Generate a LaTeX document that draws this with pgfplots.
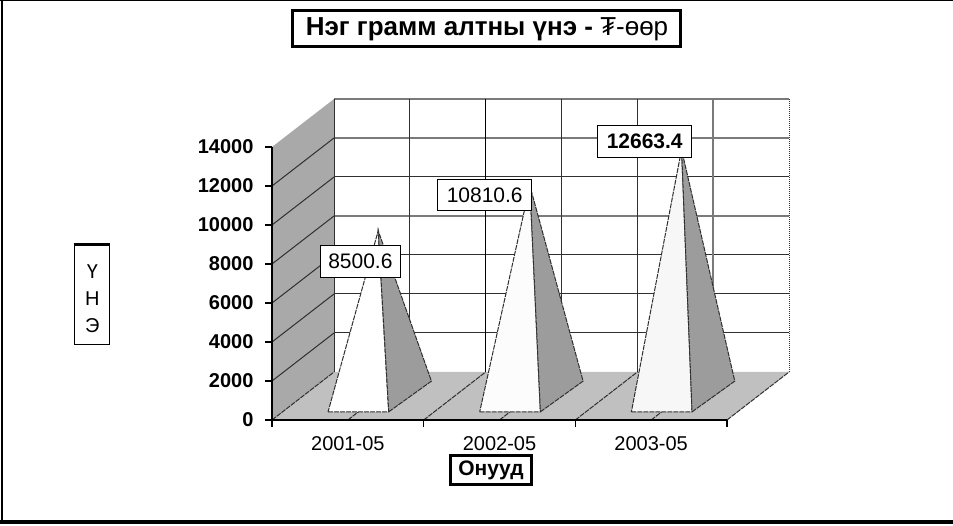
\documentclass[border=0pt]{standalone}
\usepackage{fontspec}
\setmainfont{Liberation Sans}
\usepackage{pgfplots}
\pgfplotsset{compat=1.18}
\definecolor{wallgray}{HTML}{A9A9A9}
\definecolor{floorgray}{HTML}{C0C0C0}
\definecolor{sidegray}{HTML}{9C9C9C}
\definecolor{gridd}{HTML}{303030}
\definecolor{gridl}{HTML}{7A7A7A}
\newcommand{\fs}[1]{\fontsize{#1}{#1}\selectfont}
\begin{document}
\begin{tikzpicture}[x=1pt,y=1pt]
\path[use as bounding box] (0,0) rectangle (953,525);
\fill[white] (0,0) rectangle (953,525);
% three-dimensional scene: x = category, y = depth, z = value
\begin{axis}[
  hide axis, clip=false, anchor=origin, at={(272pt,105pt)},
  x={(151.67pt,0pt)}, y={(62pt,48pt)}, z={(0pt,0.0195pt)},
  xmin=0,xmax=3,ymin=0,ymax=1,zmin=0,zmax=14000,
]
% walls and floor
\addplot3[fill=wallgray,draw=none,mark=none] coordinates {(0,0,0)(0,1,0)(0,1,14000)(0,0,14000)} --cycle;
\addplot3[fill=floorgray,draw=none,mark=none] coordinates {(0,0,0)(3,0,0)(3,1,0)(0,1,0)} --cycle;
% back wall horizontals
\addplot3[gridl,line width=2pt,mark=none] coordinates {(0,1,14000)(3,1,14000)};
\addplot3[gridl,line width=2pt,mark=none] coordinates {(0,1,12000)(3,1,12000)};
\addplot3[gridd,line width=1pt,mark=none] coordinates {(0,1,10000)(3,1,10000)};
\addplot3[gridl,line width=2pt,mark=none] coordinates {(0,1,8000)(3,1,8000)};
\addplot3[gridd,line width=1pt,mark=none] coordinates {(0,1,6000)(3,1,6000)};
\addplot3[gridd,line width=1pt,mark=none] coordinates {(0,1,4000)(3,1,4000)};
\addplot3[gridd,line width=1pt,mark=none] coordinates {(0,1,2000)(3,1,2000)};
% back wall verticals
\addplot3[gridd,line width=1pt,mark=none] coordinates {(0,1,0)(0,1,14000)};
\addplot3[gridd,line width=1pt,mark=none] coordinates {(0.5,1,0)(0.5,1,14000)};
\addplot3[black,line width=1pt,mark=none] coordinates {(1,1,0)(1,1,14000)};
\addplot3[gridd,line width=1pt,mark=none] coordinates {(1.5,1,0)(1.5,1,14000)};
\addplot3[gridd,line width=1pt,mark=none] coordinates {(2,1,0)(2,1,14000)};
\addplot3[gridl,line width=1.6pt,mark=none] coordinates {(2.5,1,0)(2.5,1,14000)};
\addplot3[gridd,line width=1pt,densely dotted,mark=none] coordinates {(3,1,0)(3,1,14000)};
% left wall lines
\addplot3[gridd,line width=1pt,mark=none] coordinates {(0,0,2000)(0,1,2000)};
\addplot3[gridd,line width=1pt,mark=none] coordinates {(0,0,4000)(0,1,4000)};
\addplot3[gridd,line width=1pt,mark=none] coordinates {(0,0,6000)(0,1,6000)};
\addplot3[gridd,line width=1pt,mark=none] coordinates {(0,0,8000)(0,1,8000)};
\addplot3[gridd,line width=1pt,mark=none] coordinates {(0,0,10000)(0,1,10000)};
\addplot3[gridd,line width=1pt,mark=none] coordinates {(0,0,12000)(0,1,12000)};
% floor lines
\addplot3[gridd,line width=1pt,dash pattern=on 5pt off 1pt,mark=none] coordinates {(0,0,0)(0,1,0)};
\addplot3[gridd,line width=1pt,dash pattern=on 5pt off 1pt,mark=none] coordinates {(0.5,0,0)(0.5,1,0)};
\addplot3[gridd,line width=1pt,dash pattern=on 5pt off 1pt,mark=none] coordinates {(1,0,0)(1,1,0)};
\addplot3[gridd,line width=1pt,dash pattern=on 5pt off 1pt,mark=none] coordinates {(1.5,0,0)(1.5,1,0)};
\addplot3[gridd,line width=1pt,dash pattern=on 5pt off 1pt,mark=none] coordinates {(2,0,0)(2,1,0)};
\addplot3[gridd,line width=1pt,dash pattern=on 5pt off 1pt,mark=none] coordinates {(2.5,0,0)(2.5,1,0)};
\addplot3[gridd,line width=1pt,dash pattern=on 5pt off 1pt,mark=none] coordinates {(3,0,0)(3,1,0)};
% pyramids
\addplot3[fill=white,draw=gridd,line width=1pt,dash pattern=on 5pt off 1pt,mark=none] coordinates {(0.30,0.17,0)(0.70,0.17,0)(0.50,0.49,8500.6)} --cycle;
\addplot3[fill=sidegray,draw=gridd,line width=1pt,dash pattern=on 5pt off 1pt,mark=none] coordinates {(0.70,0.17,0)(0.72,0.81,0)(0.50,0.49,8500.6)} --cycle;
\addplot3[fill=white!99!black,draw=gridd,line width=1pt,dash pattern=on 5pt off 1pt,mark=none] coordinates {(1.30,0.17,0)(1.70,0.17,0)(1.50,0.49,10810.6)} --cycle;
\addplot3[fill=sidegray,draw=gridd,line width=1pt,dash pattern=on 5pt off 1pt,mark=none] coordinates {(1.70,0.17,0)(1.72,0.81,0)(1.50,0.49,10810.6)} --cycle;
\addplot3[fill=white!97!black,draw=gridd,line width=1pt,dash pattern=on 5pt off 1pt,mark=none] coordinates {(2.30,0.17,0)(2.70,0.17,0)(2.50,0.49,12663.4)} --cycle;
\addplot3[fill=sidegray,draw=gridd,line width=1pt,dash pattern=on 5pt off 1pt,mark=none] coordinates {(2.70,0.17,0)(2.72,0.81,0)(2.50,0.49,12663.4)} --cycle;
\end{axis}
% front axes with ticks, labels and titles
\begin{axis}[
  anchor=origin, at={(272pt,105pt)}, scale only axis, width=455pt, height=273pt,
  xmin=0,xmax=3,ymin=0,ymax=14000, clip=false,
  axis x line=bottom, axis y line=left, axis line style={-,black,line width=1.5pt},
  xtick={0.5,1.5,2.5}, xticklabels={2001-05,2002-05,2003-05},
  minor xtick={0,1,2,3},
  major x tick style={draw=none},
  minor x tick style={black,line width=1.5pt},
  ytick={0,2000,...,14000},
  scaled y ticks=false,
  y tick style={black,line width=1.5pt},
  tick align=outside, major tick length=7pt, minor tick length=7pt,
  /pgf/number format/assume math mode=true,
  /pgf/number format/fixed,
  /pgf/number format/1000 sep={},
  x tick label style={font=\fs{20}, yshift=-6pt},
  y tick label style={font=\fs{20}\bfseries, xshift=-8pt},
  title={{\bfseries Нэг грамм алтны үнэ - }₮-өөр},
  title style={at={(0.4725,1.4105)}, anchor=center, draw=black, line width=3pt, fill=white,
    minimum width=388pt, minimum height=36pt, inner sep=0pt, font=\fs{26}},
  xlabel={\bfseries Онууд},
  xlabel style={at={(0.4813,-0.1832)}, anchor=center, draw=black, line width=3pt, fill=white,
    minimum width=81pt, minimum height=29pt, inner sep=0pt, font=\fs{21}},
  ylabel={\fs{20}\vbox{\vskip14pt\hbox{\begin{tabular}{@{}c@{}}Ү\\[7pt]Н\\[7pt]Э\end{tabular}}}},
  ylabel style={at={(-0.3947,0.4586)}, anchor=center, rotate=-90, draw=black, line width=1pt, fill=white,
    minimum width=35pt, minimum height=99pt, inner sep=0pt},
]
\end{axis}
\draw[black,line width=3pt] (73.5,280) -- (109.5,280);
% data labels
\tikzset{dl/.style={draw=black,line width=1pt,fill=white,inner sep=0pt,font=\fs{21}}}
\node[dl,minimum width=80pt,minimum height=32pt] at (360.4,263.5) {8500.6};
\node[dl,minimum width=94pt,minimum height=31pt] at (484.7,330) {10810.6};
\node[dl,minimum width=94pt,minimum height=32pt,font=\fs{21}\bfseries] at (644.7,383.6) {12663.4};
% frame
\draw[black,line width=1.6pt] (2,525) -- (2,2);
\draw[black,line width=1pt] (0,524.6) -- (953,524.6);
\draw[black,line width=4pt] (0,3.5) -- (953,3.5);
\end{tikzpicture}
\end{document}
